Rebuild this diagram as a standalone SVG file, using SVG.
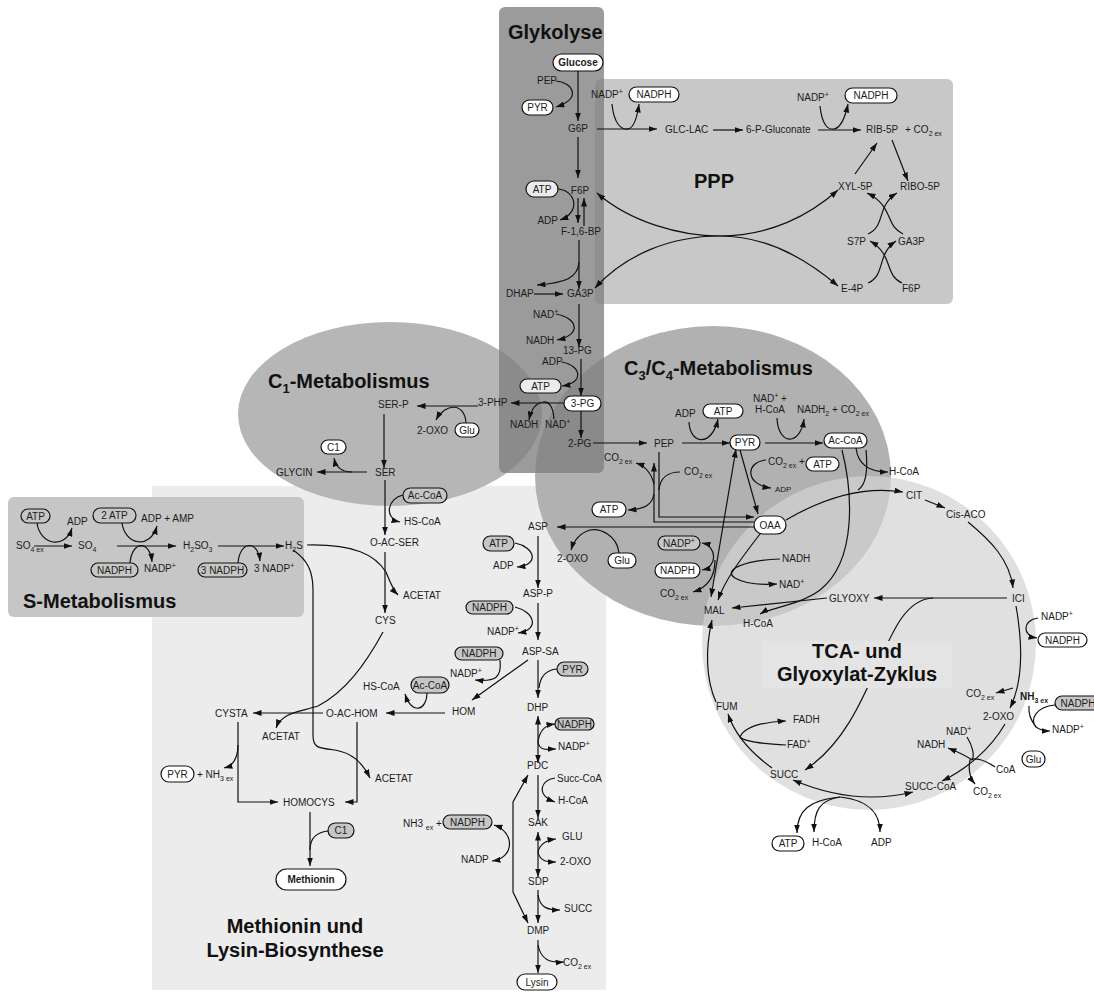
<svg xmlns="http://www.w3.org/2000/svg" width="1094" height="994" viewBox="0 0 1094 994">
<defs>
<style>
.t{font-family:"Liberation Sans",Arial,sans-serif;font-size:10px;fill:#1c1c1c}
.m{text-anchor:middle}
.sm{font-size:8px}
.bd{font-weight:bold}
.h{font-family:"Liberation Sans",Arial,sans-serif;font-size:20px;font-weight:bold;fill:#111}
.pw{fill:#fff;stroke:#111;stroke-width:1.2}
.pg{fill:#c6c6c6;stroke:#111;stroke-width:1.2}
.pl{fill:#ececec;stroke:#111;stroke-width:1.2}
.c path{fill:none;stroke:#111;stroke-width:1.2}
.c .e{marker-end:url(#a)}
.c .b{marker-start:url(#a);marker-end:url(#a)}
</style>
<marker id="a" viewBox="0 0 10 7" refX="10" refY="3.5" markerWidth="8.5" markerHeight="6" markerUnits="userSpaceOnUse" orient="auto-start-reverse"><path d="M0,0L10,3.5L0,7Z" fill="#111"/></marker>
</defs>

<!-- pathway regions -->
<g id="regions">
<rect x="152" y="486" width="454" height="504" fill="#ececec"/>
<rect x="595" y="79" width="358" height="225" rx="6" fill="#c8c8c8"/>
<ellipse cx="390" cy="414" rx="152" ry="92" fill="#b6b6b6"/>
<ellipse cx="713" cy="476" rx="178" ry="150" fill="#b1b1b1"/>
<rect x="499" y="7" width="105" height="466" rx="6" fill="#7f7f7f" fill-opacity=".78"/>
<rect x="8" y="497" width="296" height="120" rx="6" fill="#c6c6c6"/>
<circle cx="869" cy="643" r="167" fill="#d3d3d3" fill-opacity=".7"/>
</g>

<!-- connectors -->
<g id="connectors" class="c">
<!-- glycolysis -->
<path class="e" d="M578,71V121"/>
<path class="e" d="M556,81C572,82 583,98 556,107"/>
<path class="e" d="M578,137V178"/>
<path class="e" d="M597,129H657"/>
<path class="e" d="M612,104C614,125 622,130 628,129C634,128 637,118 639,104"/>
<path class="e" d="M578,198V223"/>
<path class="e" d="M584,226V198"/>
<path class="e" d="M558,189C575,190 582,212 560,220"/>
<path class="e" d="M579,240V289"/>
<path class="e" d="M579,262C578,278 565,283 537,285"/>
<path class="e" d="M534,294H563"/>
<path class="e" d="M579,304V347"/>
<path class="e" d="M556,314C578,318 582,335 557,340"/>
<path class="e" d="M581,359V396"/>
<path class="e" d="M562,362C582,366 584,383 562,386"/>
<path class="e" d="M564,403H511"/>
<path class="e" d="M554,419C553,405 548,401 543,402C536,403 531,410 529,420"/>
<path class="e" d="M581,411V438"/>
<!-- pentose phosphate pathway -->
<path class="e" d="M713,130H743"/>
<path class="e" d="M818,130H861"/>
<path class="e" d="M820,106C822,125 828,130 834,129C840,128 845,118 848,104"/>
<path class="e" d="M892,140L908,181"/>
<path class="e" d="M855,174L877,143"/>
<path class="e" d="M720,236C680,236 630,222 597,193"/>
<path class="e" d="M720,236C770,236 810,215 838,190"/>
<path class="e" d="M720,236C670,236 625,255 595,288"/>
<path class="e" d="M720,236C770,236 810,262 838,286"/>
<path class="e" d="M868,234C886,226 876,206 897,193"/>
<path class="e" d="M903,234C885,226 894,206 867,193"/>
<path class="e" d="M868,283C886,275 876,255 896,241"/>
<path class="e" d="M902,283C884,275 894,255 870,241"/>
<!-- C1 metabolism -->
<path class="e" d="M478,406H417"/>
<path class="e" d="M466,423C465,402 445,403 436,420"/>
<path class="e" d="M384,414V468"/>
<path class="e" d="M367,472H317"/>
<path class="e" d="M352,472C342,472 336,468 334,458"/>
<!-- sulfur metabolism -->
<path class="e" d="M34,546H72"/>
<path class="e" d="M37,523C40,545 65,550 72,528"/>
<path class="e" d="M117,546H176"/>
<path class="e" d="M122,523C125,545 150,550 157,526"/>
<path class="e" d="M130,563C132,540 150,540 152,562"/>
<path class="e" d="M218,546H284"/>
<path class="e" d="M238,563C240,540 258,540 260,561"/>
<!-- methionine -->
<path class="e" d="M385,480V535"/>
<path class="e" d="M403,495C388,498 383,518 400,522"/>
<path class="e" d="M385,552V613"/>
<path class="e" d="M307,545C355,544 375,555 386,572C390,582 393,590 398,595"/>
<path class="e" d="M293,550C308,560 313,572 313,590V735C313,748 318,748 335,750C352,753 362,762 370,778"/>
<path class="e" d="M383,632C365,665 345,692 318,706C300,712 282,712 276,728"/>
<path class="e" d="M323,713H253"/>
<path class="e" d="M445,713H386"/>
<path class="e" d="M427,693C427,710 412,716 405,694"/>
<path class="e" d="M238,722V802H278"/>
<path class="e" d="M238,745C238,760 232,766 224,768"/>
<path class="e" d="M357,722V802H345"/>
<path class="e" d="M310,812V866"/>
<path d="M329,831C315,832 310,840 310,850"/>
<!-- lysine -->
<path class="e" d="M754,527H557"/>
<path class="e" d="M619,553C617,535 600,528 590,530C580,533 574,540 571,550"/>
<path class="e" d="M515,543C535,547 540,565 517,567"/>
<path class="e" d="M538,536V588"/>
<path class="e" d="M515,607C535,612 540,630 518,633"/>
<path class="e" d="M538,603V640"/>
<path class="e" d="M500,660C502,678 495,682 475,680"/>
<path class="e" d="M528,660L472,700"/>
<path class="e" d="M538,660V698"/>
<path d="M557,669C545,670 540,678 539,688"/>
<path class="b" d="M538,716V763"/>
<path class="e" d="M538,742C540,728 547,725 555,724"/>
<path class="e" d="M538,742C540,752 548,749 556,749"/>
<path class="e" d="M538,775V818"/>
<path class="e" d="M555,778C540,780 536,795 555,802"/>
<path class="b" d="M538,832V877"/>
<path class="e" d="M538,852C540,843 548,840 556,839"/>
<path class="e" d="M538,852C540,862 548,862 556,862"/>
<path class="e" d="M538,890V923"/>
<path class="e" d="M538,895C540,908 548,910 560,910"/>
<path class="e" d="M538,940V973"/>
<path class="e" d="M538,945C541,960 550,963 564,962"/>
<path class="b" d="M528,775L513,802V892L528,923"/>
<path class="b" d="M494,825C515,832 515,858 492,861"/>
<!-- C3/C4 metabolism -->
<path class="e" d="M593,443H647"/>
<path class="e" d="M682,443H730"/>
<path class="e" d="M689,422C690,445 712,447 718,419"/>
<path class="e" d="M765,443H823"/>
<path class="e" d="M777,418C778,445 800,447 804,419"/>
<path class="e" d="M856,448C858,465 870,472 888,472"/>
<path class="e" d="M659,452V517H754"/>
<path class="e" d="M754,522H654V463"/>
<path class="e" d="M654,484C651,472 645,466 636,463"/>
<path class="e" d="M654,494C652,505 645,509 628,510"/>
<path d="M680,472C668,472 660,478 659,490"/>
<path class="e" d="M740,450L758,514"/>
<path class="b" d="M711,597L736,449"/>
<path class="b" d="M702,543C717,546 718,567 702,570"/>
<path class="e" d="M715,560C715,578 706,588 693,592"/>
<path class="e" d="M766,460C745,462 745,485 771,488"/>
<path class="e" d="M786,520C820,500 860,485 903,492"/>
<path d="M866,450C868,470 866,485 858,490"/>
<path class="e" d="M842,450C852,490 858,560 820,590C800,605 770,608 760,614"/>
<path class="e" d="M925,500L945,508"/>
<path class="e" d="M968,522C990,540 1010,560 1013,588"/>
<path class="e" d="M1007,598H874"/>
<path class="e" d="M827,598L732,608"/>
<path class="e" d="M760,534C740,560 725,580 718,600"/>
<path class="e" d="M780,559C745,560 722,570 735,578C745,584 760,585 777,584"/>
<!-- TCA / glyoxylate cycle -->
<path class="e" d="M1016,606C1022,640 1024,680 1010,708"/>
<path class="e" d="M1038,618C1022,620 1022,636 1037,638"/>
<path class="e" d="M933,598C880,600 880,720 805,770"/>
<path class="e" d="M1013,688L996,693"/>
<path class="e" d="M1055,705C1035,707 1030,720 1036,727C1040,730 1045,731 1050,731"/>
<path d="M1029,706C1028,715 1032,722 1036,727"/>
<path class="e" d="M1005,724C990,750 965,770 942,781"/>
<path class="e" d="M967,737C972,745 975,755 972,760C965,755 958,752 948,748"/>
<path class="e" d="M995,767C985,760 975,757 970,760C968,770 970,778 975,784"/>
<path class="b" d="M913,792C880,800 840,800 793,780"/>
<path class="e" d="M840,797C810,800 797,810 797,833"/>
<path class="e" d="M840,797C820,800 814,810 814,832"/>
<path class="e" d="M840,797C870,800 880,815 880,832"/>
<path class="e" d="M772,768C750,752 735,735 728,714"/>
<path class="e" d="M786,745C765,744 745,742 740,737C745,726 765,722 786,721"/>
<path class="e" d="M716,702C706,680 705,650 712,620"/>
</g>

<!-- titles -->
<g id="titles">
<text class="h" x="508" y="39">Glykolyse</text>
<text class="h" x="694" y="188">PPP</text>
<text class="h" x="268" y="388">C<tspan font-size="13" dy="5">1</tspan><tspan dy="-5">-Metabolismus</tspan></text>
<text class="h" x="624" y="375">C<tspan font-size="13" dy="5">3</tspan><tspan dy="-5">/C</tspan><tspan font-size="13" dy="5">4</tspan><tspan dy="-5">-Metabolismus</tspan></text>
<text class="h" x="23" y="608" font-size="21">S-Metabolismus</text>
<text class="h" x="295" y="933" text-anchor="middle">Methionin und</text>
<text class="h" x="295" y="957" text-anchor="middle">Lysin-Biosynthese</text>
</g>
<g id="tca-title">
<rect x="761" y="641" width="191" height="47" fill="#e4e4e4"/>
<text class="h" x="857" y="658" text-anchor="middle">TCA- und</text>
<text class="h" x="857" y="681" text-anchor="middle">Glyoxylat-Zyklus</text>
</g>

<!-- glycolysis nodes -->
<g id="n-glucose"><rect class="pw" x="553" y="54" width="50" height="17" rx="8.5"/><text class="t m bd" x="578" y="66" font-size="9">Glucose</text></g>
<g id="n-pep1"><text class="t" x="557" y="84" text-anchor="end">PEP</text></g>
<g id="n-pyr1"><rect class="pw" x="522" y="100" width="31" height="15" rx="7.5"/><text class="t m" x="537.5" y="111">PYR</text></g>
<g id="n-g6p"><text class="t m" x="578" y="132">G6P</text></g>
<g id="n-nadp1"><text class="t" x="591" y="98">NADP<tspan font-size="7" dy="-4">+</tspan></text></g>
<g id="n-nadph1"><rect class="pw" x="629" y="87" width="50" height="15" rx="7.5"/><text class="t m" x="654" y="98">NADPH</text></g>
<g id="n-f6p1"><text class="t m" x="580" y="194">F6P</text></g>
<g id="n-atp1"><rect class="pl" x="526" y="181" width="32" height="16" rx="8"/><text class="t m" x="542" y="193">ATP</text></g>
<g id="n-adp1"><text class="t" x="558" y="224" text-anchor="end">ADP</text></g>
<g id="n-fbp"><text class="t m" x="581" y="235">F-1,6-BP</text></g>
<g id="n-dhap"><text class="t" x="506" y="297">DHAP</text></g>
<g id="n-ga3p1"><text class="t" x="567" y="297">GA3P</text></g>
<g id="n-nad1"><text class="t" x="533" y="318">NAD<tspan font-size="7" dy="-4">+</tspan></text></g>
<g id="n-nadh1"><text class="t" x="526" y="344">NADH</text></g>
<g id="n-13pg"><text class="t" x="563" y="354">13-PG</text></g>
<g id="n-adp2"><text class="t" x="542" y="365">ADP</text></g>
<g id="n-atp2"><rect class="pl" x="520" y="379" width="41" height="14" rx="7"/><text class="t m" x="540.5" y="390">ATP</text></g>
<g id="n-3pg"><rect class="pw" x="564" y="396" width="37" height="15" rx="7.5"/><text class="t m" x="582.5" y="407">3-PG</text></g>
<g id="n-3php"><text class="t" x="478" y="406">3-PHP</text></g>
<g id="n-nadh2"><text class="t" x="510" y="428">NADH</text></g>
<g id="n-nad2"><text class="t" x="545" y="428">NAD<tspan font-size="7" dy="-4">+</tspan></text></g>
<g id="n-2pg"><text class="t" x="568" y="447">2-PG</text></g>

<!-- pentose phosphate nodes -->
<g id="n-glclac"><text class="t" x="665" y="133">GLC-LAC</text></g>
<g id="n-6pg"><text class="t" x="746" y="133">6-P-Gluconate</text></g>
<g id="n-nadp2"><text class="t" x="797" y="101">NADP<tspan font-size="7" dy="-4">+</tspan></text></g>
<g id="n-nadph2"><rect class="pw" x="845" y="88" width="52" height="15" rx="7.5"/><text class="t m" x="871" y="99">NADPH</text></g>
<g id="n-rib5p"><text class="t" x="866" y="133">RIB-5P</text></g>
<g id="n-co2ppp"><text class="t" x="905" y="133">+  CO<tspan font-size="7" dy="3">2 ex</tspan></text></g>
<g id="n-xyl5p"><text class="t" x="838" y="190">XYL-5P</text></g>
<g id="n-ribo5p"><text class="t" x="900" y="190">RIBO-5P</text></g>
<g id="n-s7p"><text class="t" x="847" y="245">S7P</text></g>
<g id="n-ga3p2"><text class="t" x="898" y="245">GA3P</text></g>
<g id="n-e4p"><text class="t" x="841" y="292">E-4P</text></g>
<g id="n-f6p2"><text class="t" x="902" y="292">F6P</text></g>

<!-- C1 nodes -->
<g id="n-serp"><text class="t" x="378" y="408">SER-P</text></g>
<g id="n-2oxo1"><text class="t" x="417" y="434">2-OXO</text></g>
<g id="n-glu1"><rect class="pw" x="455" y="423" width="24" height="14" rx="7"/><text class="t m" x="467" y="433.5">Glu</text></g>
<g id="n-ser"><text class="t" x="375" y="476">SER</text></g>
<g id="n-glycin"><text class="t" x="276" y="476">GLYCIN</text></g>
<g id="n-c1a"><rect class="pw" x="321" y="440" width="25" height="14" rx="7"/><text class="t m" x="333.5" y="450.5">C1</text></g>

<!-- sulfur nodes -->
<g id="n-atp3"><rect class="pg" x="21" y="509" width="29" height="14" rx="7"/><text class="t m" x="35.5" y="520">ATP</text></g>
<g id="n-adp3"><text class="t" x="67" y="525">ADP</text></g>
<g id="n-so4ex"><text class="t" x="16" y="549">SO<tspan font-size="7" dy="3">4 ex</tspan></text></g>
<g id="n-so4"><text class="t" x="78" y="549">SO<tspan font-size="7" dy="3">4</tspan></text></g>
<g id="n-2atp"><rect class="pg" x="93" y="508" width="43" height="15" rx="7.5"/><text class="t m" x="114.5" y="519">2 ATP</text></g>
<g id="n-adpamp"><text class="t" x="141" y="522">ADP + AMP</text></g>
<g id="n-nadph3"><rect class="pg" x="91" y="563" width="47" height="14" rx="7"/><text class="t m" x="114.5" y="574">NADPH</text></g>
<g id="n-nadp3"><text class="t" x="144" y="572">NADP<tspan font-size="7" dy="-4">+</tspan></text></g>
<g id="n-h2so3"><text class="t" x="183" y="549">H<tspan font-size="7" dy="3">2</tspan><tspan dy="-3">SO</tspan><tspan font-size="7" dy="3">3</tspan></text></g>
<g id="n-3nadph"><rect class="pg" x="198" y="563" width="49" height="14" rx="7"/><text class="t m" x="222.5" y="574">3 NADPH</text></g>
<g id="n-3nadp"><text class="t" x="254" y="572">3 NADP<tspan font-size="7" dy="-4">+</tspan></text></g>
<g id="n-h2s"><text class="t" x="285" y="549">H<tspan font-size="7" dy="3">2</tspan><tspan dy="-3">S</tspan></text></g>

<!-- methionine nodes -->
<g id="n-accoa1"><rect class="pg" x="403" y="488" width="44" height="15" rx="7.5"/><text class="t m" x="425" y="499">Ac-CoA</text></g>
<g id="n-hscoa1"><text class="t" x="404" y="525">HS-CoA</text></g>
<g id="n-oacser"><text class="t" x="370" y="546">O-AC-SER</text></g>
<g id="n-acetat1"><text class="t" x="403" y="599">ACETAT</text></g>
<g id="n-cys"><text class="t" x="375" y="624">CYS</text></g>
<g id="n-hscoa2"><text class="t" x="363" y="690">HS-CoA</text></g>
<g id="n-accoa2"><rect class="pg" x="411" y="677" width="38" height="16" rx="8"/><text class="t m" x="430" y="689">Ac-CoA</text></g>
<g id="n-cysta"><text class="t" x="215" y="717">CYSTA</text></g>
<g id="n-oachom"><text class="t" x="326" y="717">O-AC-HOM</text></g>
<g id="n-acetat2"><text class="t" x="262" y="740">ACETAT</text></g>
<g id="n-pyr2"><rect class="pw" x="161" y="766" width="33" height="16" rx="8"/><text class="t m" x="177.5" y="778">PYR</text></g>
<g id="n-nh3a"><text class="t" x="197" y="778">+ NH<tspan font-size="7" dy="3">3 ex</tspan></text></g>
<g id="n-acetat3"><text class="t" x="375" y="782">ACETAT</text></g>
<g id="n-homocys"><text class="t" x="283" y="806">HOMOCYS</text></g>
<g id="n-c1b"><rect class="pg" x="328" y="823" width="26" height="15" rx="7.5"/><text class="t m" x="341" y="834">C1</text></g>
<g id="n-methionin"><rect class="pw" x="276" y="869" width="70" height="21" rx="10.5"/><text class="t m bd" x="311" y="883" font-size="9">Methionin</text></g>

<!-- lysine nodes -->
<g id="n-asp"><text class="t" x="528" y="530">ASP</text></g>
<g id="n-atp4"><rect class="pg" x="483" y="536" width="31" height="15" rx="7.5"/><text class="t m" x="498.5" y="547">ATP</text></g>
<g id="n-adp4"><text class="t" x="493" y="569">ADP</text></g>
<g id="n-2oxo2"><text class="t" x="557" y="562">2-OXO</text></g>
<g id="n-glu2"><rect class="pw" x="608" y="553" width="28" height="15" rx="7.5"/><text class="t m" x="622" y="564">Glu</text></g>
<g id="n-aspp"><text class="t" x="523" y="597">ASP-P</text></g>
<g id="n-nadph4"><rect class="pg" x="466" y="601" width="47" height="13" rx="6.5"/><text class="t m" x="489.5" y="611">NADPH</text></g>
<g id="n-nadp4"><text class="t" x="487" y="635">NADP<tspan font-size="7" dy="-4">+</tspan></text></g>
<g id="n-aspsa"><text class="t" x="522" y="655">ASP-SA</text></g>
<g id="n-nadph5"><rect class="pg" x="455" y="647" width="48" height="13" rx="6.5"/><text class="t m" x="479" y="657">NADPH</text></g>
<g id="n-nadp5"><text class="t" x="450" y="677">NADP<tspan font-size="7" dy="-4">+</tspan></text></g>
<g id="n-pyr3"><rect class="pg" x="557" y="662" width="31" height="14" rx="7"/><text class="t m" x="572.5" y="673">PYR</text></g>
<g id="n-hom"><text class="t" x="452" y="715">HOM</text></g>
<g id="n-dhp"><text class="t" x="527" y="711">DHP</text></g>
<g id="n-nadph6"><rect class="pg" x="555" y="718" width="39" height="12" rx="6"/><text class="t m" x="574.5" y="728">NADPH</text></g>
<g id="n-nadp6"><text class="t" x="558" y="750">NADP<tspan font-size="7" dy="-4">+</tspan></text></g>
<g id="n-pdc"><text class="t" x="527" y="769">PDC</text></g>
<g id="n-succcoa1"><text class="t" x="557" y="782">Succ-CoA</text></g>
<g id="n-hcoa1"><text class="t" x="558" y="804">H-CoA</text></g>
<g id="n-sak"><text class="t" x="528" y="826">SAK</text></g>
<g id="n-glu3"><text class="t" x="562" y="840">GLU</text></g>
<g id="n-2oxo3"><text class="t" x="560" y="865">2-OXO</text></g>
<g id="n-sdp"><text class="t" x="528" y="885">SDP</text></g>
<g id="n-succ1"><text class="t" x="564" y="912">SUCC</text></g>
<g id="n-dmp"><text class="t" x="527" y="934">DMP</text></g>
<g id="n-co2lys"><text class="t" x="563" y="966">CO<tspan font-size="7" dy="3">2 ex</tspan></text></g>
<g id="n-lysin"><rect class="pw" x="517" y="974" width="40" height="16" rx="8"/><text class="t m" x="537" y="986">Lysin</text></g>
<g id="n-nh3b"><text class="t" x="403" y="827">NH3 <tspan font-size="7" dy="3">ex</tspan><tspan dy="-3"> +</tspan></text></g>
<g id="n-nadph7"><rect class="pg" x="443" y="815" width="49" height="14" rx="7"/><text class="t m" x="467.5" y="826">NADPH</text></g>
<g id="n-nadp7"><text class="t" x="461" y="863">NADP</text></g>

<!-- C3/C4 nodes -->
<g id="n-pep2"><text class="t" x="654" y="447">PEP</text></g>
<g id="n-adp5"><text class="t" x="675" y="417">ADP</text></g>
<g id="n-atp5"><rect class="pw" x="703" y="404" width="40" height="14" rx="7"/><text class="t m" x="723" y="415">ATP</text></g>
<g id="n-pyr4"><rect class="pw" x="730" y="435" width="30" height="15" rx="7.5"/><text class="t m" x="745" y="446">PYR</text></g>
<g id="n-nadhcoa"><text class="t" x="753" y="402">NAD<tspan font-size="7" dy="-4">+</tspan><tspan dy="4"> +</tspan></text><text class="t" x="755" y="413">H-CoA</text></g>
<g id="n-nadh2co2"><text class="t" x="797" y="413">NADH<tspan font-size="7" dy="3">2</tspan><tspan dy="-3"> + CO</tspan><tspan font-size="7" dy="3">2 ex</tspan></text></g>
<g id="n-accoa3"><rect class="pw" x="824" y="433" width="43" height="15" rx="7.5"/><text class="t m" x="845.5" y="444">Ac-CoA</text></g>
<g id="n-hcoa2"><text class="t" x="889" y="475">H-CoA</text></g>
<g id="n-co2a"><text class="t" x="604" y="461">CO<tspan font-size="7" dy="3">2 ex</tspan></text></g>
<g id="n-co2b"><text class="t" x="684" y="475">CO<tspan font-size="7" dy="3">2 ex</tspan></text></g>
<g id="n-atp6"><rect class="pw" x="592" y="502" width="34" height="15" rx="7.5"/><text class="t m" x="609" y="513">ATP</text></g>
<g id="n-co2c"><text class="t" x="768" y="465">CO<tspan font-size="7" dy="3">2 ex</tspan><tspan dy="-3"> +</tspan></text></g>
<g id="n-atp7"><rect class="pw" x="806" y="457" width="33" height="14" rx="7"/><text class="t m" x="822.5" y="467.5">ATP</text></g>
<g id="n-adp6"><text class="t sm" x="775" y="492">ADP</text></g>
<g id="n-oaa"><rect class="pw" x="754" y="516" width="32" height="18" rx="9"/><text class="t m" x="770" y="529">OAA</text></g>
<g id="n-nadp8"><rect class="pg" x="658" y="536" width="42" height="14" rx="7"/><text class="t m" x="679" y="547">NADP<tspan font-size="7" dy="-4">+</tspan></text></g>
<g id="n-nadph8"><rect class="pw" x="655" y="563" width="45" height="15" rx="7.5"/><text class="t m" x="677.5" y="574">NADPH</text></g>
<g id="n-co2d"><text class="t" x="660" y="597">CO<tspan font-size="7" dy="3">2 ex</tspan></text></g>
<g id="n-nadh3"><text class="t" x="782" y="562">NADH</text></g>
<g id="n-nad3"><text class="t" x="779" y="588">NAD<tspan font-size="7" dy="-4">+</tspan></text></g>
<g id="n-mal"><text class="t" x="704" y="614">MAL</text></g>
<g id="n-hcoa3"><text class="t" x="743" y="627">H-CoA</text></g>

<!-- TCA / glyoxylate nodes -->
<g id="n-cit"><text class="t" x="906" y="499">CIT</text></g>
<g id="n-cisaco"><text class="t" x="946" y="518">Cis-ACO</text></g>
<g id="n-ici"><text class="t" x="1012" y="602">ICI</text></g>
<g id="n-glyoxy"><text class="t" x="829" y="602">GLYOXY</text></g>
<g id="n-nadp9"><text class="t" x="1041" y="620">NADP<tspan font-size="7" dy="-4">+</tspan></text></g>
<g id="n-nadph9"><rect class="pw" x="1038" y="633" width="49" height="14" rx="7"/><text class="t m" x="1062.5" y="644">NADPH</text></g>
<g id="n-co2e"><text class="t" x="966" y="697">CO<tspan font-size="7" dy="3">2 ex</tspan></text></g>
<g id="n-nh3c"><text class="t bd" x="1020" y="700">NH<tspan font-size="7" dy="3">3 ex</tspan></text></g>
<g id="n-nadph10"><rect class="pg" x="1055" y="696" width="46" height="14" rx="7"/><text class="t m" x="1078" y="707">NADPH</text></g>
<g id="n-2oxo4"><text class="t" x="983" y="720">2-OXO</text></g>
<g id="n-nadp10"><text class="t" x="1052" y="733">NADP<tspan font-size="7" dy="-4">+</tspan></text></g>
<g id="n-nad4"><text class="t" x="946" y="735">NAD<tspan font-size="7" dy="-4">+</tspan></text></g>
<g id="n-nadh4"><text class="t" x="917" y="748">NADH</text></g>
<g id="n-glu4"><rect class="pw" x="1022" y="751" width="23" height="16" rx="8"/><text class="t m" x="1033.5" y="763">Glu</text></g>
<g id="n-coa"><text class="t" x="996" y="773">CoA</text></g>
<g id="n-succcoa2"><text class="t" x="905" y="790">SUCC-CoA</text></g>
<g id="n-co2f"><text class="t" x="973" y="795">CO<tspan font-size="7" dy="3">2 ex</tspan></text></g>
<g id="n-fum"><text class="t" x="716" y="710">FUM</text></g>
<g id="n-fadh"><text class="t" x="793" y="723">FADH</text></g>
<g id="n-fad"><text class="t" x="787" y="748">FAD<tspan font-size="7" dy="-4">+</tspan></text></g>
<g id="n-succ2"><text class="t" x="770" y="778">SUCC</text></g>
<g id="n-atp8"><rect class="pw" x="772" y="836" width="32" height="15" rx="7.5"/><text class="t m" x="788" y="847">ATP</text></g>
<g id="n-hcoa4"><text class="t" x="812" y="846">H-CoA</text></g>
<g id="n-adp7"><text class="t" x="871" y="846">ADP</text></g>
</svg>
